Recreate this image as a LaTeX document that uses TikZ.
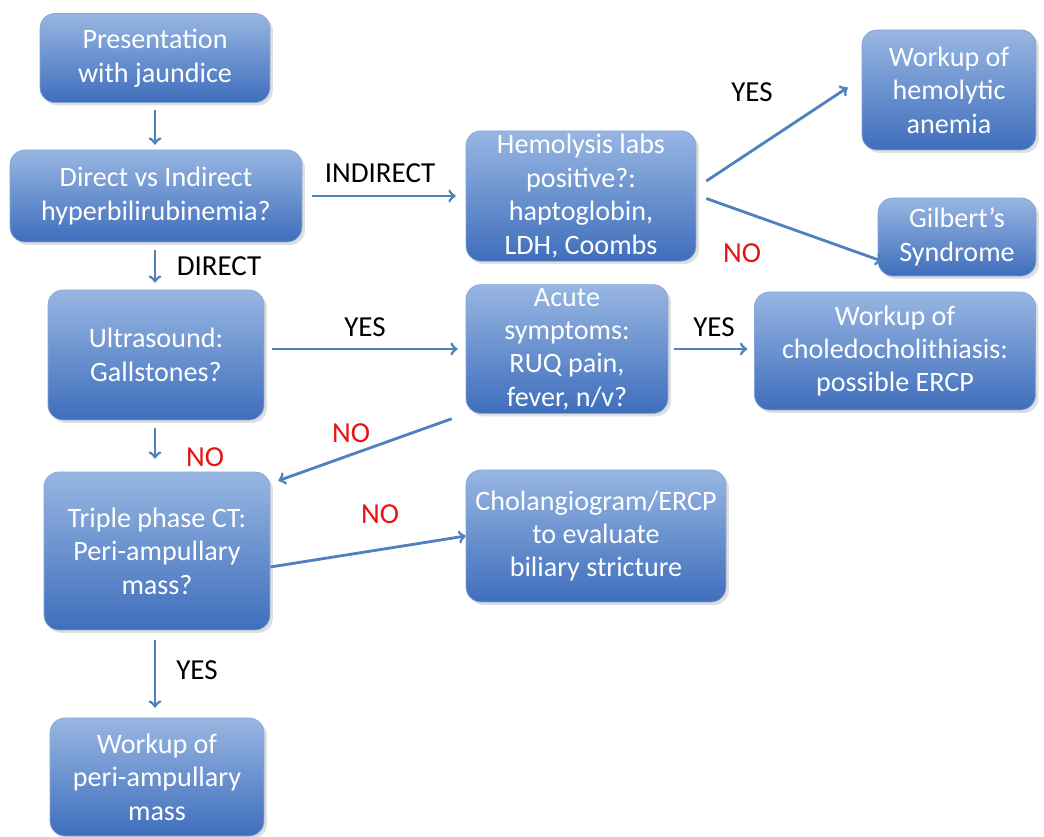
\documentclass[tikz,border=0pt]{standalone}
\usepackage{fontspec}
\setmainfont{Carlito}
\usepackage{tikz}
\usetikzlibrary{shapes,arrows,shadows}
\definecolor{colo}{RGB}{79,129,189}
\definecolor{boxtop}{RGB}{152,182,226}
\definecolor{boxbot}{RGB}{62,110,188}
\definecolor{nored}{RGB}{230,20,20}
\tikzstyle{box}=[rounded corners=0.3cm,top color=boxtop,bottom color=boxbot,draw=boxtop!70!colo,
  drop shadow={opacity=0.25,shadow xshift=0.06cm,shadow yshift=-0.06cm},
  align=center,text=white,font=\fontsize{16}{19}\selectfont,inner sep=2pt]
\tikzstyle{lab}=[font=\fontsize{16.5}{18}\selectfont]
\tikzstyle{arr}=[->,>=to,colo,line width=1.6pt]

\begin{document}
\begin{tikzpicture}[x=0.02cm,y=-0.02cm]
\useasboundingbox[fill=white] (0,0) rectangle (1044,836);
\node[box,minimum width=4.6cm,minimum height=1.78cm] (pres) at (155,58) {Presentation\\with jaundice};
\node[box,minimum width=5.84cm,minimum height=1.84cm] (dir) at (156,196) {Direct vs Indirect\\hyperbilirubinemia?};
\node[box,minimum width=4.6cm,minimum height=2.54cm] (hem) at (581,196) {Hemolysis labs\\positive?:\\haptoglobin,\\LDH, Coombs};
\node[box,minimum width=3.48cm,minimum height=2.4cm] (anem) at (949,90) {Workup of\\hemolytic\\anemia};
\node[box,minimum width=3.16cm,minimum height=1.56cm] (gilb) at (957,237) {Gilbert’s\\Syndrome};
\node[box,minimum width=4.32cm,minimum height=2.6cm] (us) at (156,355) {Ultrasound:\\Gallstones?};
\node[box,minimum width=4.04cm,minimum height=2.56cm] (acute) at (567,349) {Acute\\symptoms:\\RUQ pain,\\fever, n/v?};
\node[box,minimum width=5.62cm,minimum height=2.36cm] (chol) at (895,351) {Workup of\\choledocholithiasis:\\possible ERCP};
\node[box,minimum width=4.52cm,minimum height=3.16cm] (ct) at (157,551) {Triple phase CT:\\Peri-ampullary\\mass?};
\node[box,minimum width=5.2cm,minimum height=2.64cm] (ercp) at (596,536) {Cholangiogram/ERCP\\to evaluate\\biliary stricture};
\node[box,minimum width=4.28cm,minimum height=2.36cm] (peri) at (157,777) {Workup of\\peri-ampullary\\mass};
% labels
\node[lab] (l1) at (380,173) {INDIRECT};
\node[lab] (l2) at (219,266) {DIRECT};
\node[lab] (l3) at (752,92) {YES};
\node[lab,nored] (l4) at (742,253) {NO};
\node[lab] (l5) at (365,327) {YES};
\node[lab] (l6) at (714,327) {YES};
\node[lab,nored] (l7) at (351,433) {NO};
\node[lab,nored] (l8) at (205,457) {NO};
\node[lab,nored] (l9) at (380,514) {NO};
\node[lab] (l10) at (197,670) {YES};
% arrows
\coordinate (c1) at (155,110);
\coordinate (c2) at (155,250);
\coordinate (c3) at (155,428);
\coordinate (c4) at (155,640);
\draw[arr] (c1) -- ([yshift=0.1cm]c1 |- dir.north);
\draw[arr] ([xshift=0.2cm]dir.east) -- ([xshift=-0.2cm]hem.west);
\draw[arr] ([xshift=0.2cm,yshift=0.3cm]hem.east) -- ([xshift=-0.28cm,yshift=0.05cm]anem.west);
\draw[arr] ([xshift=0.2cm,yshift=-0.05cm]hem.east) -- ([xshift=0.1cm,yshift=0.3cm]gilb.south west);
\draw[arr] (c2) -- ([yshift=0.14cm]c2 |- us.north);
\draw[arr] ([xshift=0.16cm]us.east |- acute.west) -- ([xshift=-0.16cm]acute.west);
\draw[arr] ([xshift=0.12cm]acute.east) -- ([xshift=-0.14cm]acute.east -| chol.west);
\draw[arr] ([xshift=-0.28cm,yshift=-0.1cm]acute.south west) -- ([xshift=0.16cm,yshift=-0.18cm]ct.north east);
\draw[arr] (c3) -- ([yshift=0.26cm]c3 |- ct.north);
\draw[arr] ([yshift=-0.32cm]ct.east) -- ([yshift=0.0cm]ercp.west);
\draw[arr] (c4) -- ([yshift=0.2cm]c4 |- peri.north);
\end{tikzpicture}
\end{document}
